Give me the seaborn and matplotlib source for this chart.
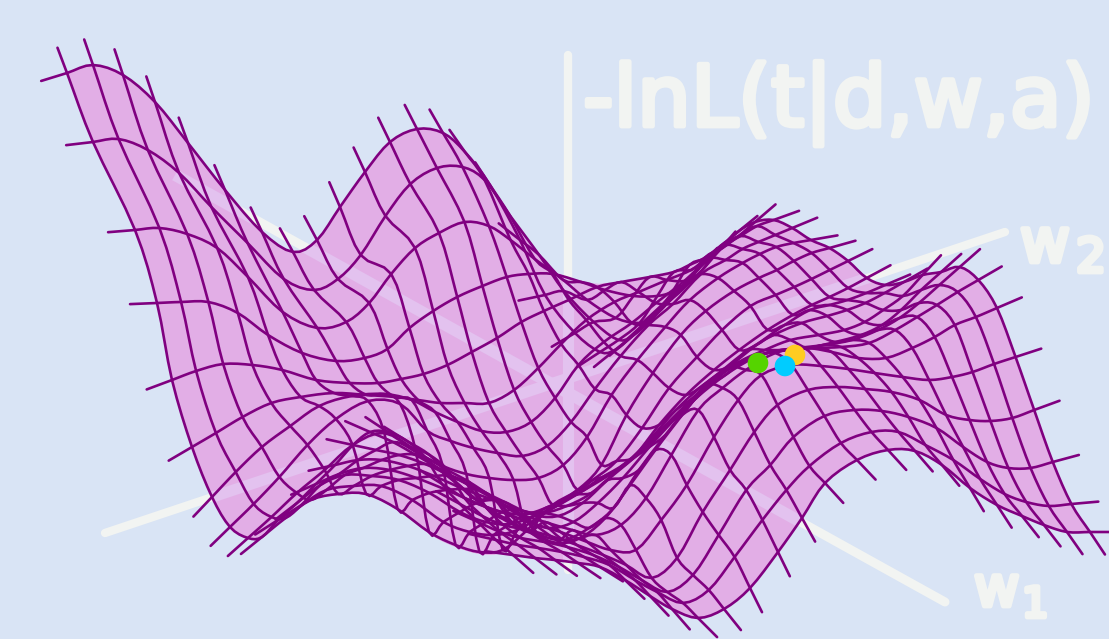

# loss surface sketch: -lnL over the two weights, drawn as a wire mesh with seaborn
import numpy as np
import pandas as pd
import matplotlib
matplotlib.use("Agg")
import matplotlib.pyplot as plt
from matplotlib.path import Path
from matplotlib.patches import PathPatch
import matplotlib.patheffects as pe
import seaborn as sns

# screen x of every mesh column on the far edge (first row) and near edge (last row)
far_edge_x = [67, 93, 123, 155, 188, 225, 262, 293, 317, 340, 365, 390, 417, 443, 465, 490, 520, 545, 575, 600, 615, 630, 646, 662]
near_edge_x = [513, 535, 555, 578, 600, 625, 650, 672, 698, 724, 750, 778, 802, 825, 857, 888, 915, 942, 970, 997, 1022, 1044, 1067, 1090]
# screen x of every mesh row on the left edge
left_edge_x = [67, 93, 135, 157, 172, 192, 212, 230, 248, 262, 278, 297, 316, 335, 353, 370, 388, 407, 425, 442, 460, 478, 496, 513]

# surface height, one list per mesh row (pixels from the top)
loss_rows = [
    [73, 65, 75, 102, 143, 190, 232, 252, 240, 207, 172, 142, 129, 133, 152, 185, 240, 295, 333, 352, 350, 338, 322, 305],
    [142, 139, 150, 173, 207, 243, 279, 290, 279, 255, 216, 184, 168, 167, 180, 215, 255, 291, 322, 340, 335, 322, 305, 288],
    [230, 228, 234, 248, 277, 312, 328, 322, 303, 274, 248, 233, 222, 226, 240, 259, 280, 300, 318, 323, 316, 302, 285, 268],
    [303, 302, 302, 313, 335, 353, 361, 358, 349, 328, 311, 297, 286, 277, 274, 274, 282, 290, 296, 296, 292, 285, 270, 252],
    [380, 371, 364, 365, 370, 380, 383, 383, 379, 374, 365, 352, 338, 322, 311, 300, 287, 282, 277, 272, 265, 258, 246, 233],
    [447, 433, 417, 403, 397, 393, 395, 397, 400, 403, 403, 403, 390, 368, 344, 320, 302, 292, 280, 270, 258, 248, 236, 222],
    [497, 472, 447, 426, 406, 396, 394, 400, 412, 422, 431, 432, 422, 398, 365, 342, 323, 303, 281, 258, 245, 236, 226, 220],
    [527, 504, 477, 445, 419, 401, 404, 431, 441, 448, 453, 456, 446, 422, 389, 356, 325, 304, 274, 260, 249, 242, 235, 228],
    [538, 517, 493, 470, 445, 433, 452, 466, 474, 478, 480, 478, 465, 437, 395, 360, 327, 300, 278, 263, 254, 247, 243, 240],
    [537, 518, 500, 494, 494, 509, 532, 545, 552, 550, 530, 505, 490, 465, 415, 373, 335, 311, 291, 278, 270, 261, 253, 248],
    [520, 505, 490, 486, 486, 500, 522, 532, 535, 530, 515, 497, 480, 461, 428, 388, 357, 330, 306, 295, 287, 279, 270, 261],
    [503, 485, 475, 476, 480, 493, 512, 522, 524, 516, 505, 490, 475, 458, 425, 395, 370, 350, 330, 315, 305, 297, 288, 278],
    [484, 474, 468, 470, 478, 490, 503, 512, 514, 506, 495, 478, 463, 440, 410, 385, 365, 345, 325, 310, 305, 300, 293, 285],
    [465, 460, 460, 466, 476, 489, 500, 510, 513, 506, 493, 470, 450, 425, 398, 372, 350, 335, 323, 316, 310, 303, 293, 282],
    [445, 450, 455, 464, 476, 490, 504, 515, 516, 503, 480, 458, 435, 410, 385, 363, 350, 340, 335, 330, 322, 310, 296, 275],
    [432, 442, 455, 470, 484, 500, 518, 528, 522, 503, 478, 447, 420, 397, 375, 358, 350, 348, 342, 335, 325, 310, 290, 272],
    [432, 447, 465, 485, 505, 522, 535, 540, 528, 508, 470, 435, 405, 380, 362, 352, 348, 345, 340, 330, 318, 303, 285, 267],
    [441, 455, 478, 500, 518, 532, 543, 538, 518, 485, 450, 415, 385, 367, 355, 350, 348, 347, 343, 330, 317, 305, 292, 280],
    [457, 470, 482, 498, 513, 522, 530, 535, 525, 498, 455, 410, 388, 370, 353, 348, 352, 358, 358, 348, 337, 325, 317, 308],
    [484, 498, 507, 515, 524, 532, 542, 550, 550, 520, 485, 437, 400, 375, 365, 366, 369, 373, 377, 380, 377, 372, 364, 357],
    [504, 516, 525, 530, 536, 545, 555, 565, 578, 558, 512, 470, 432, 405, 390, 387, 389, 392, 400, 415, 420, 421, 418, 410],
    [522, 532, 538, 542, 547, 555, 567, 580, 592, 575, 535, 490, 465, 437, 416, 410, 411, 417, 428, 447, 462, 468, 468, 462],
    [540, 545, 548, 552, 557, 565, 580, 592, 603, 590, 557, 520, 490, 466, 443, 432, 432, 445, 460, 479, 494, 502, 506, 504],
    [555, 558, 560, 563, 567, 580, 596, 609, 618, 609, 588, 552, 518, 483, 460, 450, 451, 465, 488, 505, 516, 525, 532, 532],
]

# three fits sitting on the ridge
fit_x = [795, 758, 785]
fit_y = [355, 363, 366]
fit_colors = ["#ffcc22", "#55d400", "#00ccff"]

# the hand drawn axes, start and end
axis_names = ["w1", "w2", "loss"]
axis_x = [(175, 945), (105, 1005), (568, 568)]
axis_y = [(175, 602), (533, 232), (55, 570)]
axis_widths = [6.5, 6.0, 6.0]

BACK = "#d9e4f5"
SKIN = "#e2aee6"
SKIN_AXIS = "#e3c2ef"
WIRE = "#800080"
CHALK = "#f2f4f2"


def spline(a, steps=4):
    # catmull-rom through the values along the last axis
    a = np.asarray(a, dtype=float)
    p = np.concatenate([2 * a[..., :1] - a[..., 1:2], a, 2 * a[..., -1:] - a[..., -2:-1]], axis=-1)
    out = []
    for k in range(p.shape[-1] - 3):
        p0, p1, p2, p3 = p[..., k], p[..., k + 1], p[..., k + 2], p[..., k + 3]
        for t in np.arange(steps) / steps:
            out.append(0.5 * (2 * p1 + (p2 - p0) * t + (2 * p0 - 5 * p1 + 4 * p2 - p3) * t ** 2 + (3 * p1 - p0 - 3 * p2 + p3) * t ** 3))
    out.append(a[..., -1])
    return np.stack(out, axis=-1)


def whisker(x, y, length=27):
    # lengthen a mesh line past both ends, the way the sketch does
    dx0, dy0 = x[0] - x[4], y[0] - y[4]
    dx1, dy1 = x[-1] - x[-5], y[-1] - y[-5]
    n0 = np.hypot(dx0, dy0) + 1e-6
    n1 = np.hypot(dx1, dy1) + 1e-6
    xs = np.r_[x[0] + dx0 / n0 * length, x, x[-1] + dx1 / n1 * length]
    ys = np.r_[y[0] + dy0 / n0 * length, y, y[-1] + dy1 / n1 * length]
    return xs, ys


# grid positions on the screen
heights = np.array(loss_rows, dtype=float)
n_rows, n_cols = heights.shape
far = np.array(far_edge_x, dtype=float)
near = np.array(near_edge_x, dtype=float)
left = np.array(left_edge_x, dtype=float)
row_t = np.arange(n_rows) / (n_rows - 1)
col_t = np.arange(n_cols) / (n_cols - 1)
screen_x = np.outer(1 - row_t, far) + np.outer(row_t, near)
screen_x += np.outer(left - screen_x[:, 0], 1 - col_t)

# fine mesh for smooth lines and skin
fine_x = spline(spline(screen_x).T).T
fine_y = spline(spline(heights).T).T

sns.set_theme(style="white")
plt.rcParams["font.family"] = ["DejaVu Sans"]
fig, ax = plt.subplots(figsize=(11.09, 6.39), dpi=100)
fig.subplots_adjust(0, 0, 1, 1)
fig.patch.set_facecolor(BACK)
ax.set_facecolor(BACK)

# chalk axes behind the surface
for name, xs, ys, lw in zip(axis_names, axis_x, axis_y, axis_widths):
    ax.plot(xs, ys, color=CHALK, lw=lw, solid_capstyle="round", zorder=1)

# skin: every cell turned the same way so a fold fills only once
verts = []
codes = []
for r in range(fine_x.shape[0] - 1):
    for c in range(fine_x.shape[1] - 1):
        quad = np.array([
            [fine_x[r, c], fine_y[r, c]], [fine_x[r, c + 1], fine_y[r, c + 1]],
            [fine_x[r + 1, c + 1], fine_y[r + 1, c + 1]], [fine_x[r + 1, c], fine_y[r + 1, c]],
        ])
        area = np.sum(quad[:, 0] * np.roll(quad[:, 1], -1) - np.roll(quad[:, 0], -1) * quad[:, 1])
        if area < 0:
            quad = quad[::-1]
        verts.extend(quad.tolist() + [quad[0].tolist()])
        codes.extend([Path.MOVETO, Path.LINETO, Path.LINETO, Path.LINETO, Path.CLOSEPOLY])
skin = PathPatch(Path(verts, codes), facecolor=SKIN, edgecolor="none", zorder=2)
ax.add_patch(skin)

# axes seen through the skin
for name, xs, ys, lw in zip(axis_names, axis_x, axis_y, axis_widths):
    seen, = ax.plot(xs, ys, color=SKIN_AXIS, lw=lw + 2, solid_capstyle="butt", zorder=3)
    seen.set_clip_path(skin)

# wire mesh, rows and columns in one long table
parts = []
for r in range(0, fine_x.shape[0], 4):
    xs, ys = whisker(fine_x[r], fine_y[r])
    parts.append(pd.DataFrame({"x": xs, "y": ys, "line": f"row{r}"}))
for c in range(0, fine_x.shape[1], 4):
    xs, ys = whisker(fine_x[:, c], fine_y[:, c])
    parts.append(pd.DataFrame({"x": xs, "y": ys, "line": f"col{c}"}))
mesh = pd.concat(parts, ignore_index=True)
sns.lineplot(data=mesh, x="x", y="y", units="line", estimator=None, sort=False,
             color=WIRE, lw=1.9, legend=False, ax=ax, zorder=4)

# fits
ax.scatter(fit_x, fit_y, s=220, c=fit_colors, linewidths=0, zorder=5)

# chalk writing, fattened a little to look drawn
chunky = [pe.withStroke(linewidth=3.5, foreground=CHALK)]
ax.text(583, 126, "-lnL(t|d,w,a)", color=CHALK, fontsize=61, ha="left", va="baseline", zorder=6, path_effects=chunky)
ax.text(1020, 262, "w", color=CHALK, fontsize=44, ha="left", va="baseline", zorder=6, path_effects=chunky)
ax.text(1076, 272, "2", color=CHALK, fontsize=34, ha="left", va="baseline", zorder=6, path_effects=chunky)
ax.text(974, 606, "w", color=CHALK, fontsize=40, ha="left", va="baseline", zorder=6, path_effects=chunky)
ax.text(1022, 617, "1", color=CHALK, fontsize=30, ha="left", va="baseline", zorder=6, path_effects=chunky)

ax.set_xlim(0, 1109)
ax.set_ylim(639, 0)
ax.set_axis_off()
fig.savefig("out.png", dpi=100, facecolor=BACK)
